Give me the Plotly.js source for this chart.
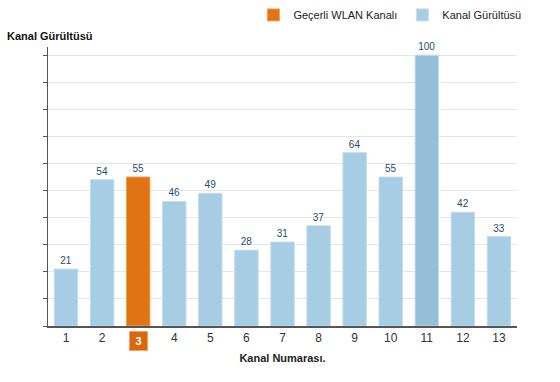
<!DOCTYPE html>
<html><head><meta charset="utf-8">
<script src="https://cdn.plot.ly/plotly-3.0.1.min.js"></script>
<style>html,body{margin:0;padding:0;background:#fff}#c{width:560px;height:382px}</style>
</head><body><div id="c"></div>
<script>
const channels = [1,2,3,4,5,6,7,8,9,10,11,12,13];
const noise = [21,54,55,46,49,28,31,37,64,55,100,42,33];
const currentChannel = 3;
const legendCurrent = "Geçerli WLAN Kanalı";
const legendNoise = "Kanal Gürültüsü";
const yTitle = "Kanal Gürültüsü";
const xTitle = "Kanal Numarası.";

const otherX = channels.filter(c => c !== currentChannel);
const otherY = channels.map((c,i)=>[c,noise[i]]).filter(p=>p[0]!==currentChannel).map(p=>p[1]);
const curY = noise[channels.indexOf(currentChannel)];
const blueCols = otherX.map(c => c === 11 ? '#95bfd8' : '#a7cde4');

const font = "'Liberation Sans', Arial, sans-serif";
const traces = [
  {type:'bar', x:[currentChannel], y:[curY], name:legendCurrent, width:0.65,
   marker:{color:'#e07414', line:{color:'#f0a050', width:1}},
   text:[String(curY)], textposition:'outside', cliponaxis:false,
   textfont:{color:'#1d4e70', size:10, family:font}, hoverinfo:'none'},
  {type:'bar', x:otherX, y:otherY, name:legendNoise, width:0.65,
   marker:{color:blueCols, line:{color:'#c2ddee', width:1}},
   text:otherY.map(String), textposition:'outside', cliponaxis:false,
   textfont:{color:'#1d4e70', size:10, family:font}, hoverinfo:'none'}
];
const layout = {
  width:560, height:382, margin:{l:48, r:43, t:47, b:56, autoexpand:false},
  paper_bgcolor:'#fff', plot_bgcolor:'#fff', barmode:'overlay',
  font:{family:font, size:11, color:'#333'},
  showlegend:true,
  legend:{orientation:'h', x:1.02, xanchor:'right', y:1.115, yanchor:'middle',
    font:{size:11, color:'#222', family:font}, itemwidth:30, traceorder:'normal'},
  xaxis:{range:[0.5,13.5], tickvals:channels,
    ticktext:channels.map(c => c===currentChannel ? '' : String(c)),
    showgrid:false, zeroline:false, showline:true, linecolor:'#555', linewidth:1.5,
    ticks:'', tickfont:{size:12, color:'#333'},
    title:{text:'<b>'+xTitle+'</b>', font:{size:11, color:'#222'}, standoff:10}},
  yaxis:{range:[0,103], dtick:10, showticklabels:false, ticks:'outside', ticklen:4,
    tickcolor:'#555', showgrid:true, gridcolor:'#e6e6e6', zeroline:false,
    showline:true, linecolor:'#555', linewidth:1.5},
  annotations:[
    {xref:'paper', yref:'paper', x:-0.092, y:1.012, xanchor:'left', yanchor:'bottom',
     text:'<b>'+yTitle+'</b>', showarrow:false, font:{size:11, color:'#111'}},
    {xref:'x', yref:'paper', x:currentChannel, y:-0.018, yanchor:'top',
     text:'<b>'+currentChannel+'</b>', showarrow:false, font:{size:11, color:'#fff'},
     bgcolor:'#d9680c', bordercolor:'#f4a45a', borderwidth:1, borderpad:3, width:11}
  ]
};
Plotly.newPlot('c', traces, layout, {staticPlot:true, displayModeBar:false});
</script></body></html>
